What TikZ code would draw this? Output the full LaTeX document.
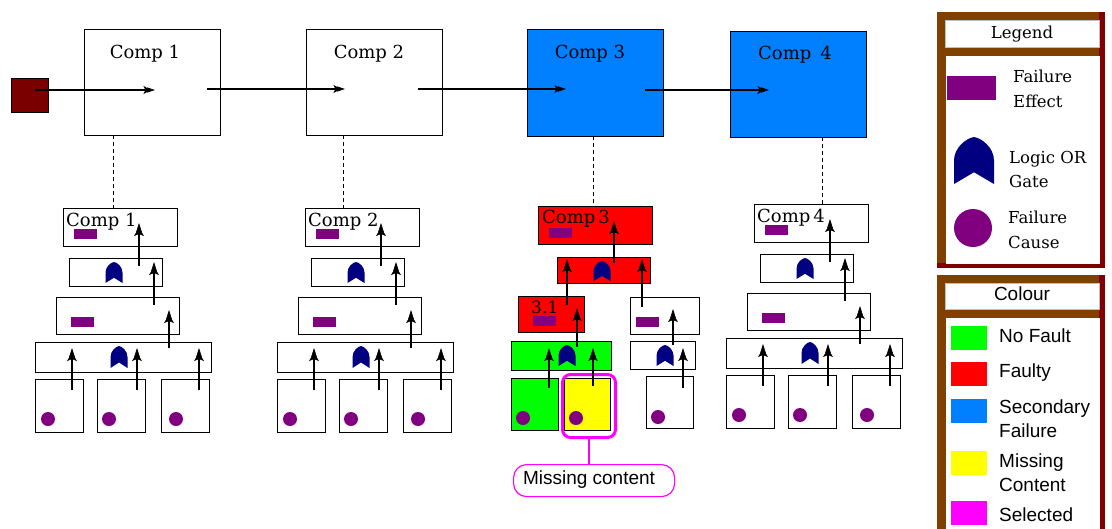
\documentclass[tikz,border=0pt]{standalone}
\usepackage{fontspec}
\setmainfont{DejaVu Serif}
\newfontfamily\arialfont{Liberation Sans}
\usetikzlibrary{arrows.meta,calc}

\definecolor{effectpurple}{HTML}{800080}
\definecolor{gatenavy}{HTML}{000080}
\definecolor{secblue}{HTML}{0080FF}
\definecolor{faultred}{HTML}{FF0000}
\definecolor{okgreen}{HTML}{00FF00}
\definecolor{missyellow}{HTML}{FFFF00}
\definecolor{selmagenta}{HTML}{FF00FF}
\definecolor{framebrown}{HTML}{804000}
\definecolor{framedark}{HTML}{800000}
\definecolor{sourcered}{HTML}{7A0000}

\tikzset{
  box/.style={draw=black, line width=1.1pt, fill=white, inner sep=0pt, anchor=north west},
  effect/.style={fill=effectpurple, inner sep=0pt, minimum width=23pt, minimum height=10pt},
  cause/.style={circle, fill=effectpurple, inner sep=0pt, minimum size=14pt},
  lbl/.style={inner sep=0pt, font=\fontsize{18}{20}\selectfont},
  legtext/.style={inner sep=0pt, anchor=base west, font=\fontsize{16.5}{18}\selectfont},
  coltext/.style={inner sep=0pt, anchor=base west, font=\arialfont\fontsize{19}{21}\selectfont},
  swatch/.style={inner sep=0pt, minimum width=36pt, minimum height=24pt},
  fta/.style={line width=1.2pt, -{Stealth[length=8pt,width=10pt,inset=2pt,sep=-4pt,line width=0.6pt]Stealth[length=9pt,width=5.5pt,inset=0pt,line width=0.6pt]}},
  flow/.style={line width=1.2pt, -{Stealth[length=7pt,width=8pt,inset=2pt,sep=-3.5pt,line width=0.6pt]Stealth[length=8pt,width=5pt,inset=0pt,line width=0.6pt]}},
  link/.style={line width=0.8pt, dash pattern=on 4pt off 3pt},
  orgate/.pic={\fill[gatenavy] (-0.5,0) -- (-0.5,0.5)
     .. controls (-0.5,0.78) and (-0.18,0.98) .. (0,1)
     .. controls (0.18,0.98) and (0.5,0.78) .. (0.5,0.5)
     -- (0.5,0) -- (0,0.25) -- cycle;},
}

% rectangle node given by its corners: [style]{x1}{y1}{x2}{y2}{name}
\newcommand\rbox[6][]{\node[box,#1,minimum width={(#4-#2)*1pt},minimum height={(#5-#3)*1pt}] (#6) at (#2,#3) {};}
% OR gate: bottom centre x, y, width, height
\newcommand\gateat[4]{\path (#1,#2) pic[x=#3pt,y=#4pt]{orgate};}

% fault tree of a healthy component
\newcommand\plaintree[2]{%
  \rbox{63}{208}{177}{246}{#1T}
  \rbox{69}{258}{162}{286}{#1G}
  \rbox{56}{297}{179}{334}{#1M}
  \rbox{35}{342}{211}{372}{#1B}
  \rbox{35}{379}{83}{432}{#1La}
  \rbox{97}{379}{145}{432}{#1Lb}
  \rbox{161}{379}{209}{432}{#1Lc}
  \node[lbl, anchor=base west] (#1Tt) at (66,226) {#2};
  \node[effect] (#1Te) at (85.5,234) {};
  \node[effect] (#1Me) at (82,322) {};
  \gateat{114}{283}{17}{21}
  \gateat{119}{368}{17}{22}
  \node[cause] (#1Ca) at (48,419) {};
  \node[cause] (#1Cb) at (109,419) {};
  \node[cause] (#1Cc) at (176,419) {};
  \coordinate (#1a1s) at (139,266); \coordinate (#1a1e) at (139,223);
  \coordinate (#1a2s) at (154,305); \coordinate (#1a2e) at (154,262);
  \coordinate (#1a3s) at (169,348); \coordinate (#1a3e) at (169,310);
  \coordinate (#1a4s) at (72,390);  \coordinate (#1a4e) at (72,348);
  \coordinate (#1a5s) at (137,390); \coordinate (#1a5e) at (137,348);
  \coordinate (#1a6s) at (199,390); \coordinate (#1a6e) at (199,348);
  \foreach \k in {1,...,6} {\draw[fta] (#1a\k s) -- (#1a\k e);}
}

\begin{document}
\begin{tikzpicture}[x=1pt,y=-1pt]
\useasboundingbox (0,0) rectangle (1112,528);

% ---------- system level ----------
\node[draw=black, fill=sourcered, line width=0.6pt, minimum width=37pt, minimum height=34pt, anchor=north west] (src) at (11,78) {};
\rbox[line width=1.3pt]{84}{29}{220}{135}{c1}
\rbox[line width=1.3pt]{306}{29}{442}{135}{c2}
\rbox[line width=1.3pt, fill=secblue]{527}{29}{663}{136}{c3}
\rbox[line width=1.3pt, fill=secblue]{730}{31}{866}{137}{c4}
\node[lbl, anchor=base] (c1t) at (145,58) {Comp 1};
\node[lbl, anchor=base] (c2t) at (369,58) {Comp 2};
\node[lbl, anchor=base] (c3t) at (590,58) {Comp 3};
\node[lbl, anchor=base] (c4t) at (795,59) {Comp\enspace4};

\coordinate (srcout) at (35,90);
\coordinate (c1in) at (155,90);  \coordinate (c1out) at (207,89);
\coordinate (c2in) at (345,89);  \coordinate (c2out) at (418,89);
\coordinate (c3in) at (566,89);  \coordinate (c3out) at (645,90);
\coordinate (c4in) at (769,90);
\draw[flow] (srcout) -- (c1in);
\draw[flow] (c1out) -- (c2in);
\draw[flow] (c2out) -- (c3in);
\draw[flow] (c3out) -- (c4in);

% ---------- component fault trees ----------
\plaintree{a}{Comp 1}
\begin{scope}[shift={(242,0)}]
  \plaintree{b}{Comp 2}
\end{scope}
\begin{scope}[shift={(691,-4)}]
  \plaintree{d}{Comp\,4}
\end{scope}

% Comp 3: failure propagated from a missing part
\rbox[fill=faultred]{538}{206}{652}{244}{cT}
\rbox[fill=faultred]{557}{257}{650}{283}{cG}
\rbox[fill=faultred]{518}{296}{584}{332}{cS}
\rbox{630}{297}{699}{334}{cR}
\rbox[fill=okgreen]{511}{341}{611}{370}{cB}
\rbox{630}{341}{695}{369}{cRB}
\rbox[fill=okgreen]{511}{378}{558}{430}{cLa}
\rbox[fill=missyellow]{564}{378}{610}{430}{cLb}
\rbox{646}{376}{693}{428}{cLc}
\node[lbl, anchor=base west] (cTt) at (542,223) {Comp\,3};
\node[lbl, anchor=base west, font=\fontsize{17}{19}\selectfont] (cSt) at (531,313) {3.1};
\node[effect] (cTe) at (560.5,233) {};
\node[effect] (cSe) at (544,320.5) {};
\node[effect] (cRe) at (647,322) {};
\gateat{602}{281}{17}{20}
\gateat{567}{366}{17}{21}
\gateat{665}{366}{17}{21}
\node[cause] (cCa) at (523,418) {};
\node[cause] (cCb) at (576,418) {};
\node[cause] (cCc) at (658,417) {};
\node[draw=selmagenta, line width=3pt, rounded corners=8pt, inner sep=0pt,
      minimum width=53pt, minimum height=63pt, anchor=north west] (sel) at (561,373) {};

\coordinate (c3a1s) at (614,263); \coordinate (c3a1e) at (614,221);
\coordinate (c3a2s) at (567,305); \coordinate (c3a2e) at (567,259);
\coordinate (c3a3s) at (642,307); \coordinate (c3a3e) at (642,259);
\coordinate (c3a4s) at (577,347); \coordinate (c3a4e) at (577,308);
\coordinate (c3a5s) at (673,345); \coordinate (c3a5e) at (673,309);
\coordinate (c3a6s) at (549,388); \coordinate (c3a6e) at (549,348);
\coordinate (c3a7s) at (593,386); \coordinate (c3a7e) at (593,348);
\coordinate (c3a8s) at (683,388); \coordinate (c3a8e) at (683,348);
\foreach \k in {1,...,8} {\draw[fta] (c3a\k s) -- (c3a\k e);}

\node[draw=selmagenta, line width=1.2pt, rounded corners=13pt, inner sep=0pt,
      minimum width=161pt, minimum height=32pt, anchor=north west] (call) at (513,464) {};
\node[inner sep=0pt, font=\arialfont\fontsize{19}{21}\selectfont] (callt) at (589,480) {Missing content};
\draw[selmagenta, line width=1.5pt] (sel.south) -- (sel.south |- call.north);

% ---------- system / tree links ----------
\coordinate (d1) at (113,135); \coordinate (d2) at (343,135);
\coordinate (d3) at (593,136); \coordinate (d4) at (822,137);
\draw[link] (d1) -- (d1 |- aT.north);
\draw[link] (d2) -- (d2 |- bT.north);
\draw[link] (d3) -- (d3 |- cT.north);
\draw[link] (d4) -- (d4 |- dT.north);

% ---------- legend panel ----------
\fill[framebrown] (937,12) rectangle (1105,268);
\fill[framedark] (1099,12) rectangle (1105,268);
\fill[framedark] (937,263) rectangle (1105,268);
\node[box, draw=gray!50, line width=0.5pt, minimum width=154pt, minimum height=27pt] (legtitle) at (945,20) {};
\node[box, draw=none, minimum width=154pt, minimum height=208pt] (legbody) at (945,55) {};
\node[inner sep=0pt, anchor=base, font=\fontsize{16.5}{18}\selectfont] (legt) at (1022,38) {Legend};
\node[fill=effectpurple, inner sep=0pt, minimum width=49pt, minimum height=24pt] (legeff) at (971.5,88) {};
\node[legtext] (legefft) at (1013,82) {Failure};
\node[legtext] (legefft2) at (1013,107) {Effect};
\gateat{974}{184}{40}{47}
\node[legtext] (leggt) at (1009,163) {Logic OR};
\node[legtext] (leggt2) at (1009,187) {Gate};
\node[circle, fill=effectpurple, inner sep=0pt, minimum size=38pt] (legcause) at (973,228) {};
\node[legtext] (legct) at (1008,223) {Failure};
\node[legtext] (legct2) at (1008,248) {Cause};

% ---------- colour panel ----------
\fill[framebrown] (937,275) rectangle (1105,530);
\fill[framedark] (1099,275) rectangle (1105,530);
\node[box, draw=gray!50, line width=0.5pt, minimum width=154pt, minimum height=26pt] (coltitle) at (945,283) {};
\node[box, draw=none, minimum width=154pt, minimum height=213pt] (colbody) at (945,317) {};
\node[inner sep=0pt, anchor=base, font=\arialfont\fontsize{19}{21}\selectfont] (colt) at (1022,300) {Colour};
\node[swatch, fill=okgreen] (sw1) at (969,338) {};
\node[swatch, fill=faultred] (sw2) at (969,374) {};
\node[swatch, fill=secblue] (sw3) at (969,411) {};
\node[swatch, fill=missyellow] (sw4) at (969,463) {};
\node[swatch, fill=selmagenta] (sw5) at (969,513) {};
\node[coltext] (ct1) at (999,342) {No Fault};
\node[coltext] (ct2) at (999,377) {Faulty};
\node[coltext] (ct3) at (999,413) {Secondary};
\node[coltext] (ct3b) at (999,437) {Failure};
\node[coltext] (ct4) at (999,467) {Missing};
\node[coltext] (ct4b) at (999,491) {Content};
\node[coltext] (ct5) at (999,521) {Selected};
\end{tikzpicture}
\end{document}
